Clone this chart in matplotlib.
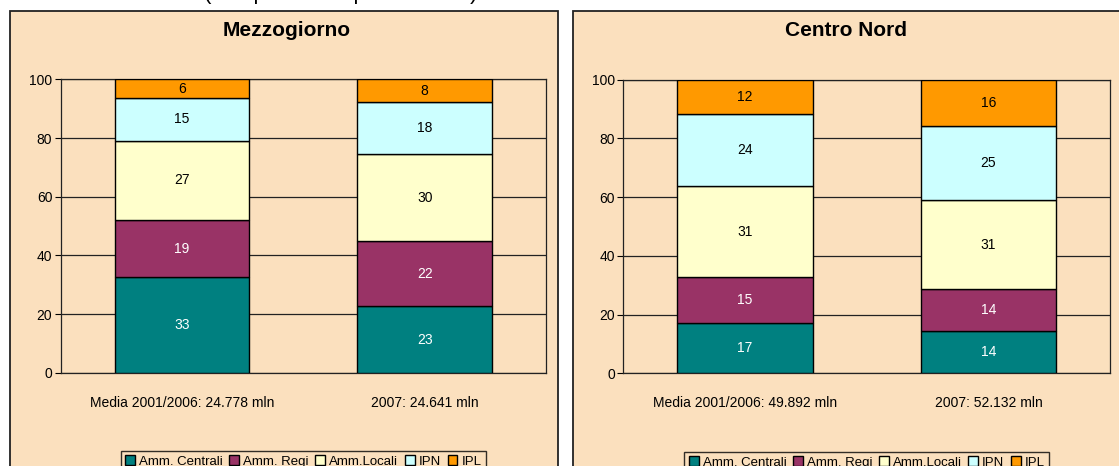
import matplotlib.pyplot as plt
from matplotlib.patches import Rectangle

plt.rcParams["font.family"] = ["Liberation Sans", "DejaVu Sans"]

series_names = ["Amm. Centrali", "Amm. Regi", "Amm.Locali", "IPN", "IPL"]
series_colors = ["#008080", "#993366", "#FFFFCC", "#CCFFFF", "#FF9900"]
label_colors = ["white", "white", "black", "black", "black"]

# quote percentuali, dal basso verso l'alto
mezzogiorno_cats = ["Media 2001/2006: 24.778 mln", "2007: 24.641 mln"]
mezzogiorno_shares = [
    [32.6, 22.6],   # Amm. Centrali
    [19.4, 22.3],   # Amm. Regi
    [27.1, 29.6],   # Amm.Locali
    [14.6, 17.8],   # IPN
    [6.3, 7.7],     # IPL
]

centronord_cats = ["Media 2001/2006: 49.892 mln", "2007: 52.132 mln"]
centronord_shares = [
    [17.3, 14.4],
    [15.4, 14.2],
    [31.1, 30.6],
    [24.4, 25.2],
    [11.8, 15.6],
]

PANEL_BG = "#FBE0BE"


def draw_panel(fig, panel_rect, ax_rect, title_x, title, cats, shares):
    fig.patches.append(Rectangle(panel_rect[:2], *panel_rect[2:], transform=fig.transFigure,
                                 facecolor=PANEL_BG, edgecolor="#222222", linewidth=1.3,
                                 zorder=-5))
    ax = fig.add_axes(ax_rect)
    ax.patch.set_visible(False)
    x = list(range(len(cats)))
    bottoms = [0.0] * len(cats)
    handles = []
    for vals, color, tcol, name in zip(shares, series_colors, label_colors, series_names):
        bars = ax.bar(x, vals, bottom=bottoms, width=0.555, color=color,
                      edgecolor="black", linewidth=1.0, label=name, zorder=3)
        handles.append(bars)
        for xi, b, v in zip(x, bottoms, vals):
            ax.text(xi, b + v / 2, f"{round(v):d}", ha="center", va="center",
                    fontsize=10, color=tcol, zorder=4)
        bottoms = [b + v for b, v in zip(bottoms, vals)]

    ax.set_xlim(-0.5, len(cats) - 0.5)
    ax.set_ylim(0, 100)
    ax.set_yticks(range(0, 101, 20))
    ax.tick_params(axis="y", labelsize=10, length=4, width=0.8, pad=2)
    ax.set_xticks([])
    ax.yaxis.grid(True, color="#222222", linewidth=0.9, zorder=1)
    ax.set_axisbelow(True)
    for sp in ax.spines.values():
        sp.set_color("#222222")
        sp.set_linewidth(0.9)
    for xi, c in zip(x, cats):
        ax.text(xi, -0.102, c, transform=ax.get_xaxis_transform(), ha="center",
                va="center", fontsize=10)

    fig.text(title_x, 1 - 30 / 466, title, ha="center", va="center", fontsize=15,
             fontweight="bold")

    ax.legend(handles=handles, loc="upper center", bbox_to_anchor=(0.5, -0.266), ncol=5,
              fontsize=9.5, frameon=True, fancybox=False, edgecolor="black",
              facecolor="none", handlelength=0.75, handleheight=0.75,
              handletextpad=0.3, columnspacing=0.5, borderpad=0.35, borderaxespad=0)
    return ax


fig = plt.figure(figsize=(11.19, 4.66), dpi=100)

draw_panel(fig, (9.5 / 1119, -0.1, 548 / 1119, 1.1 - 11 / 466),
           (60.7 / 1119, 0.2000, 485.3 / 1119, 0.6298), 287 / 1119,
           "Mezzogiorno", mezzogiorno_cats, mezzogiorno_shares)
draw_panel(fig, (572.5 / 1119, -0.1, 0.6, 1.1 - 11 / 466),
           (623.3 / 1119, 0.1985, 487 / 1119, 0.6305), 846 / 1119,
           "Centro Nord", centronord_cats, centronord_shares)

fig.text(341 / 1119, 1 + 0.5 / 466, "(composizione percentuale)", ha="center",
         va="baseline", fontsize=16)

fig.savefig("out.png", dpi=100)
